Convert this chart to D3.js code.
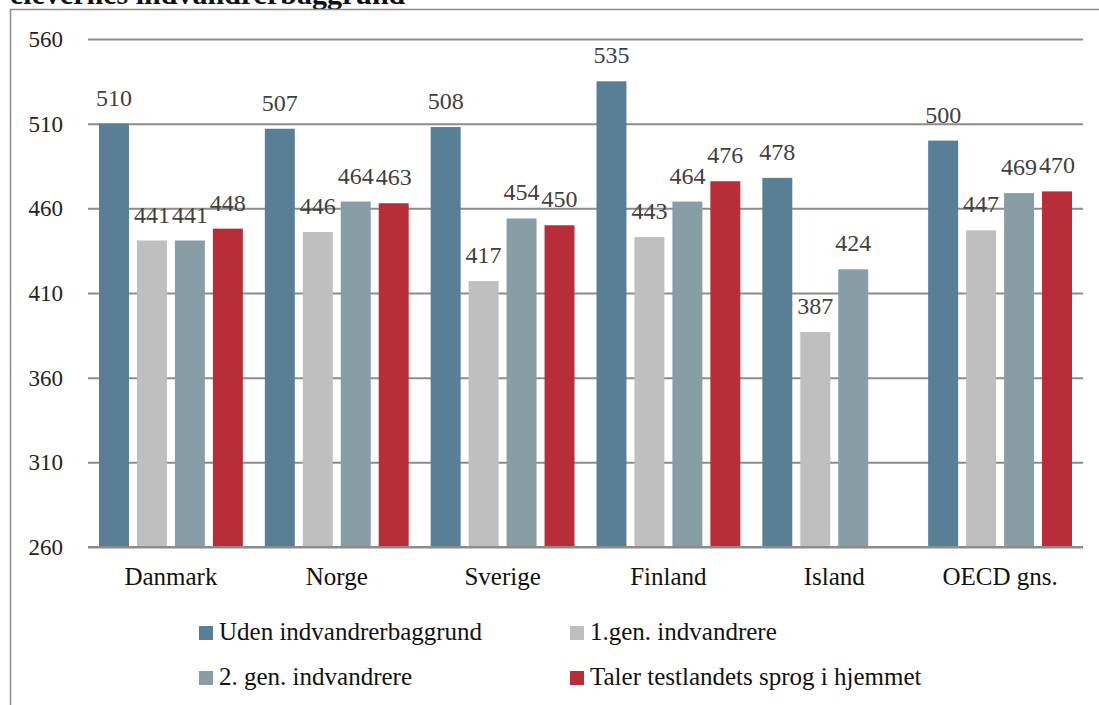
<!DOCTYPE html>
<html lang="da">
<head>
<meta charset="UTF-8">
<script src="https://cdn.jsdelivr.net/npm/d3@7/dist/d3.min.js"></script>
<title>PISA</title>
<style>
  body { margin: 0; padding: 0; background: #fff; }
  svg text { font-family: "Liberation Serif", "Times New Roman", Times, "DejaVu Serif", serif !important; }
</style>
</head>
<body>
<script>
// data
var categories = ["Danmark", "Norge", "Sverige", "Finland", "Island", "OECD gns."];
var seriesNames = ["Uden indvandrerbaggrund", "1.gen. indvandrere", "2. gen. indvandrere", "Taler testlandets sprog i hjemmet"];
var uden = [510, 507, 508, 535, 478, 500];
var gen1 = [441, 446, 417, 443, 387, 447];
var gen2 = [441, 464, 454, 464, 424, 469];
var taler = [448, 463, 450, 476, null, 470];
var yTicks = [260, 310, 360, 410, 460, 510, 560];
var colors = ["#587f95", "#bfbfbf", "#889ea6", "#b82d37"];

var values = [uden, gen1, gen2, taler];

var W = 1099, H = 705;
var svg = d3.select("body").append("svg")
  .attr("width", W)
  .attr("height", H);

// clipped title above the frame
svg.append("text")
  .attr("x", 10)
  .attr("y", 4)
  .attr("font-weight", "bold")
  .attr("font-size", 30)
  .attr("fill", "#111")
  .text("elevernes indvandrerbaggrund");

// frame
svg.append("rect")
  .attr("x", 10.5).attr("y", 9.5)
  .attr("width", W + 20).attr("height", H + 20)
  .attr("fill", "#fff")
  .attr("stroke", "#8c8c8c")
  .attr("stroke-width", 1.5);

var pLeft = 88, pRight = 1083, pTop = 39, pBottom = 547;

var y = d3.scaleLinear().domain([260, 560]).range([pBottom, pTop]);
var x0 = d3.scaleBand().domain(categories).range([pLeft, pRight]);
var x1 = d3.scaleBand().domain(d3.range(4))
  .range([11, x0.bandwidth() - 11])
  .paddingInner(8 / 38);

// grid + y labels
var yAxis = svg.append("g")
  .attr("transform", "translate(" + pLeft + ",0)")
  .call(d3.axisLeft(y).tickValues(yTicks).tickSizeInner(-(pRight - pLeft)).tickSizeOuter(0).tickPadding(25));
yAxis.select(".domain").remove();
yAxis.selectAll(".tick line").attr("stroke", "#8c8c8c").attr("stroke-width", 2);
yAxis.selectAll(".tick text")
  .attr("font-size", 23)
  .attr("fill", "#222");

// bars
var groups = svg.selectAll("g.grp")
  .data(categories)
  .enter().append("g")
  .attr("class", "grp")
  .attr("transform", function (d) { return "translate(" + x0(d) + ",0)"; });

groups.each(function (cat, ci) {
  var g = d3.select(this);
  var items = values.map(function (s, si) { return { si: si, v: s[ci] }; })
    .filter(function (d) { return d.v != null; });

  g.selectAll("rect")
    .data(items)
    .enter().append("rect")
    .attr("x", function (d) { return x1(d.si); })
    .attr("y", function (d) { return y(d.v); })
    .attr("width", x1.bandwidth())
    .attr("height", function (d) { return y(260) - y(d.v); })
    .attr("fill", function (d) { return colors[d.si]; });

  g.selectAll("text.val")
    .data(items)
    .enter().append("text")
    .attr("class", "val")
    .attr("x", function (d) { return x1(d.si) + x1.bandwidth() / 2; })
    .attr("y", function (d) { return y(d.v) - 18; })
    .attr("text-anchor", "middle")
    .attr("font-size", 24)
    .attr("fill", "#404040")
    .text(function (d) { return d.v; });
});

// bottom axis line redraw on top of bars
svg.append("line")
  .attr("x1", pLeft).attr("x2", pRight)
  .attr("y1", y(260)).attr("y2", y(260))
  .attr("stroke", "#8c8c8c").attr("stroke-width", 2);

// category labels
svg.selectAll("text.cat")
  .data(categories)
  .enter().append("text")
  .attr("class", "cat")
  .attr("x", function (d) { return x0(d) + x0.bandwidth() / 2; })
  .attr("y", 585)
  .attr("text-anchor", "middle")
  .attr("font-size", 25)
  .attr("fill", "#111")
  .text(function (d) { return d; });

// legend 2x2
var legX = [199, 570], legY = [640, 685];
var leg = svg.selectAll("g.leg")
  .data(seriesNames)
  .enter().append("g")
  .attr("class", "leg")
  .attr("transform", function (d, i) { return "translate(" + legX[i % 2] + "," + legY[Math.floor(i / 2)] + ")"; });
leg.append("rect")
  .attr("x", 0).attr("y", -14)
  .attr("width", 14).attr("height", 14)
  .attr("fill", function (d, i) { return colors[i]; });
leg.append("text")
  .attr("x", 20)
  .attr("y", 0)
  .attr("font-size", 25)
  .attr("fill", "#111")
  .text(function (d) { return d; });
</script>
</body>
</html>
